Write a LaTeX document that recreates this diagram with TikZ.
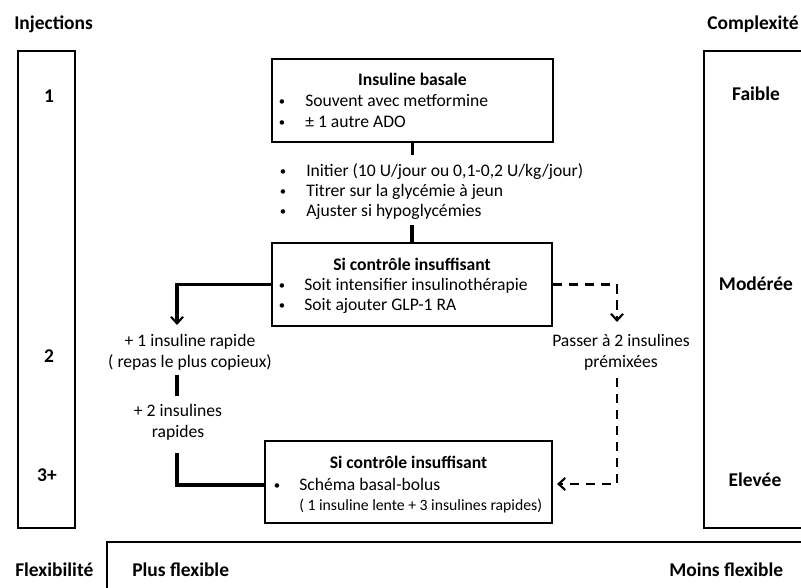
\documentclass[tikz,border=0pt]{standalone}
\usepackage{fontspec}
\setmainfont{Carlito}
\usetikzlibrary{arrows.meta}
\begin{document}
\begin{tikzpicture}[x=0.75pt,y=-0.75pt,
  body/.style={font=\fontsize{13.2}{15.8}\selectfont, inner sep=0pt},
  ttl/.style={font=\fontsize{13.2}{15.8}\selectfont\bfseries, inner sep=0pt, anchor=mid},
  side/.style={font=\fontsize{14.6}{17}\selectfont\bfseries, inner sep=0pt},
  small/.style={font=\fontsize{11.8}{14}\selectfont, inner sep=0pt},
  bul/.style={font=\fontsize{9.5}{11}\selectfont, inner sep=0pt, anchor=center},
  item/.style={body, anchor=mid west},
  ctr/.style={body, anchor=mid},
  frame/.style={draw, line width=1.5pt, inner sep=0pt},
  conn/.style={line width=2.3pt},
  dconn/.style={line width=1.6pt, dash pattern=on 7pt off 5pt},
  tip/.style={-{Straight Barb[length=5pt,width=9pt,line width=1.6pt]}}
]
\useasboundingbox (0,0) rectangle (801,588);

% side frames
\node[frame, minimum width=42.75pt, minimum height=357.75pt] (lbox) at (46.5,289.5) {};
\node[frame, minimum width=87pt, minimum height=357.75pt] (rbox) at (762,289.5) {};
\node[frame, minimum width=542.25pt, minimum height=58.5pt] (fbox) at (468.5,581) {};

\node[side, anchor=mid west] (inj) at (14,26) {Injections};
\node[side, anchor=mid west] (cpx) at (707,26) {Complexité};
\node[side, anchor=mid west] (flx) at (15,573) {Flexibilité};
\node[side, anchor=mid west] (pfl) at (132,573) {Plus flexible};
\node[side, anchor=mid west] (mfl) at (669,573) {Moins flexible};

\node[side, anchor=mid] (n1) at (49,99) {1};
\node[side, anchor=mid] (n2) at (49,359) {2};
\node[side, anchor=mid] (n3) at (47,478) {3+};
\node[side, anchor=mid] (cf) at (756,97) {Faible};
\node[side, anchor=mid] (cm) at (756,287) {Modérée};
\node[side, anchor=mid] (ce) at (755,483) {Elevée};

% top box
\node[frame, minimum width=210.75pt, minimum height=62.25pt] (topb) at (412.5,100.5) {};
\node[ttl] (topt) at (412.5,82) {Insuline basale};
\node[bul] (topb1) at (282,103) {•};
\node[item] (topx1) at (305,103) {Souvent avec metformine};
\node[bul] (topb2) at (282,124) {•};
\node[item] (topx2) at (305,124) {± 1 autre ADO};

% intermediate list
\node[bul] (lb1) at (283,173) {•};
\node[item] (lx1) at (306,173) {Initier (10 U/jour ou 0,1-0,2 U/kg/jour)};
\node[bul] (lb2) at (283,193) {•};
\node[item] (lx2) at (306,193) {Titrer sur la glycémie à jeun};
\node[bul] (lb3) at (283,213) {•};
\node[item] (lx3) at (306,213) {Ajuster si hypoglycémies};

% middle box
\node[frame, minimum width=210pt, minimum height=62.25pt] (midb) at (412,284.5) {};
\node[ttl] (midt) at (412,267) {Si contrôle insuffisant};
\node[bul] (midb1) at (282,287) {•};
\node[item] (midx1) at (304,287) {Soit intensifier insulinothérapie};
\node[bul] (midb2) at (282,307) {•};
\node[item] (midx2) at (304,307) {Soit ajouter GLP-1 RA};

% bottom box
\node[frame, minimum width=215.25pt, minimum height=61.5pt] (botb) at (408.5,482) {};
\node[ttl] (bott) at (408.5,465) {Si contrôle insuffisant};
\node[bul] (botb1) at (277,487) {•};
\node[item] (botx1) at (299,487) {Schéma basal-bolus};
\node[small, anchor=mid west] (botx2) at (299,507) {( 1 insuline lente + 3 insulines rapides)};

% left texts
\node[ctr] (a1) at (190,343) {+ 1 insuline rapide};
\node[ctr] (a2) at (190,364) {( repas le plus copieux)};
\node[ctr] (b1) at (178,413) {+ 2 insulines};
\node[ctr] (b2) at (178,434) {rapides};
% right texts
\node[ctr] (p1) at (621,343) {Passer à 2 insulines};
\node[ctr] (p2) at (621,364) {prémixées};

% coordinates
\coordinate (c1) at (412.5,155);
\coordinate (c2) at (412,225);
\coordinate (l1) at (177,284.5);
\coordinate (l2) at (177,325);
\coordinate (l3) at (177,375);
\coordinate (l4) at (177,396);
\coordinate (l5) at (177,453);
\coordinate (l6) at (177,485);
\coordinate (r1) at (617,284.5);
\coordinate (r2) at (617,322);
\coordinate (r3) at (617,378);
\coordinate (r4) at (617,484);
\coordinate (r5) at (557,484);

% connectors
\draw[conn] (topb.south) -- (c1);
\draw[conn] (c2) -- (midb.north);
\draw[conn, tip] (midb.west) -- (l1) -- (l2);
\draw[conn] (l3) -- (l4);
\draw[conn] (l5) -- (l6) -- (botb.west |- l6);
\draw[dconn, tip] (midb.east) -- (r1) -- (r2);
\draw[dconn, tip] (r3) -- (r4) -- (r5);
\end{tikzpicture}
\end{document}
